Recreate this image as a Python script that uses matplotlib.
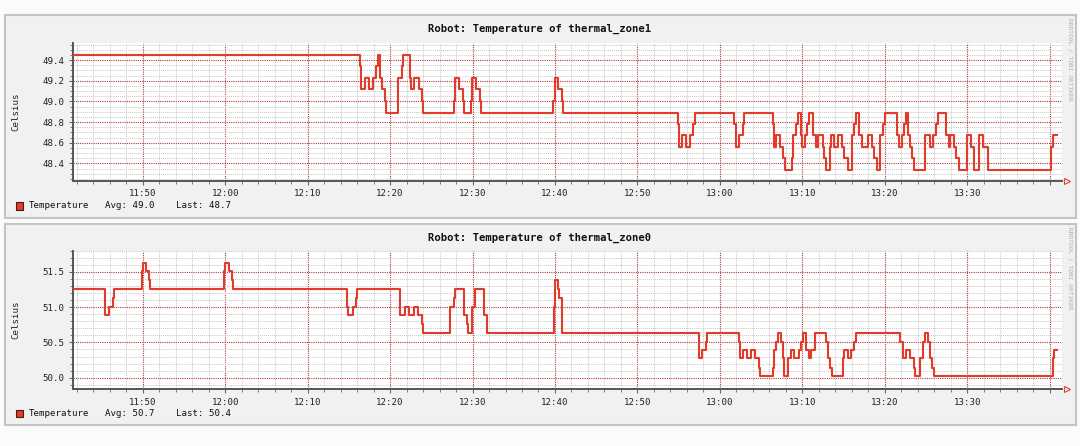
import pandas as pd
import matplotlib
matplotlib.use("Agg")
import matplotlib.pyplot as plt
import matplotlib.dates as mdates
from matplotlib.patches import Rectangle
from matplotlib.ticker import MultipleLocator

plt.rcParams["font.family"] = ["DejaVu Sans Mono"]

DAY = "2024-01-01 "
x_start, x_end = "11:41:30", "13:41:30"

# thermal_zone1 (top chart)
zone1_times = [
    "11:41:30", "12:16:22", "12:16:30", "12:16:54", "12:17:27", "12:17:54", "12:18:18", "12:18:30",
    "12:18:48", "12:19:00", "12:19:24", "12:19:30", "12:20:54", "12:21:00", "12:21:30", "12:21:36",
    "12:22:24", "12:22:30", "12:22:54", "12:23:30", "12:23:54", "12:24:00", "12:27:48", "12:27:54",
    "12:28:24", "12:28:51", "12:29:00", "12:29:48", "12:29:57", "12:30:24", "12:30:54", "12:31:00",
    "12:39:48", "12:40:00", "12:40:24", "12:40:54", "12:41:00", "12:54:53", "12:55:00", "12:55:25",
    "12:55:54", "12:56:25", "12:56:47", "12:57:02", "13:01:45", "13:01:58", "13:02:22", "13:02:46",
    "13:02:58", "13:06:24", "13:06:31", "13:06:48", "13:07:20", "13:07:42", "13:07:54", "13:08:42",
    "13:08:54", "13:09:14", "13:09:26", "13:09:50", "13:09:58", "13:10:17", "13:10:34", "13:10:51",
    "13:11:15", "13:11:40", "13:11:56", "13:12:28", "13:12:40", "13:12:52", "13:13:21", "13:13:31",
    "13:13:53", "13:14:17", "13:14:46", "13:15:05", "13:15:30", "13:15:59", "13:16:18", "13:16:30",
    "13:16:54", "13:17:14", "13:18:00", "13:18:26", "13:18:44", "13:19:00", "13:19:27", "13:19:44",
    "13:20:01", "13:21:28", "13:21:45", "13:22:05", "13:22:22", "13:22:34", "13:22:48", "13:23:03",
    "13:23:18", "13:23:35", "13:24:52", "13:25:29", "13:25:48", "13:26:12", "13:26:29", "13:27:24",
    "13:27:44", "13:27:56", "13:28:25", "13:28:42", "13:29:02", "13:29:55", "13:30:26", "13:30:51",
    "13:31:27", "13:31:52", "13:32:28", "13:40:12", "13:40:28", "13:40:57",
]
zone1_temps = [
    49.45, 49.34, 49.12, 49.23, 49.12, 49.23, 49.34, 49.45,
    49.23, 49.12, 49.00, 48.89, 49.00, 49.23, 49.34, 49.45,
    49.23, 49.12, 49.23, 49.12, 49.00, 48.89, 49.00, 49.23,
    49.12, 49.00, 48.89, 49.00, 49.23, 49.12, 49.00, 48.89,
    49.00, 49.23, 49.12, 49.00, 48.89, 48.78, 48.56, 48.67,
    48.56, 48.67, 48.78, 48.89, 48.78, 48.56, 48.67, 48.78,
    48.89, 48.78, 48.56, 48.67, 48.56, 48.45, 48.34, 48.45,
    48.67, 48.78, 48.89, 48.67, 48.56, 48.67, 48.78, 48.89,
    48.67, 48.56, 48.67, 48.56, 48.45, 48.34, 48.56, 48.67,
    48.56, 48.67, 48.56, 48.45, 48.34, 48.67, 48.78, 48.89,
    48.67, 48.56, 48.67, 48.56, 48.45, 48.34, 48.67, 48.78,
    48.89, 48.67, 48.56, 48.67, 48.78, 48.89, 48.67, 48.56,
    48.45, 48.34, 48.67, 48.56, 48.67, 48.78, 48.89, 48.67,
    48.56, 48.67, 48.56, 48.45, 48.34, 48.67, 48.56, 48.34,
    48.67, 48.56, 48.34, 48.56, 48.67, 48.67,
]

# thermal_zone0 (bottom chart)
zone0_times = [
    "11:41:30", "11:45:24", "11:45:53", "11:46:20", "11:46:29", "11:49:51", "11:49:58", "11:50:24",
    "11:50:47", "11:50:56", "11:59:53", "11:59:59", "12:00:25", "12:00:51", "12:00:57", "12:14:47",
    "12:14:54", "12:15:29", "12:15:53", "12:15:59", "12:21:13", "12:21:49", "12:22:18", "12:22:51",
    "12:23:22", "12:23:49", "12:23:56", "12:27:18", "12:27:44", "12:27:53", "12:28:57", "12:29:23",
    "12:29:29", "12:29:53", "12:30:18", "12:31:22", "12:31:48", "12:39:53", "12:40:00", "12:40:20",
    "12:40:28", "12:40:54", "12:57:26", "12:57:31", "12:57:53", "12:58:18", "12:58:25", "13:02:22",
    "13:02:29", "13:02:51", "13:03:15", "13:03:45", "13:04:16", "13:04:45", "13:04:52", "13:06:27",
    "13:06:36", "13:06:49", "13:07:00", "13:07:25", "13:07:37", "13:07:49", "13:08:13", "13:08:38",
    "13:09:02", "13:09:33", "13:09:50", "13:10:02", "13:10:27", "13:10:46", "13:11:03", "13:11:29",
    "13:12:55", "13:13:09", "13:13:22", "13:13:33", "13:14:58", "13:15:05", "13:15:32", "13:15:56",
    "13:16:18", "13:16:30", "13:21:50", "13:22:10", "13:22:33", "13:23:02", "13:23:35", "13:23:42",
    "13:24:14", "13:24:35", "13:24:51", "13:25:14", "13:25:27", "13:25:47", "13:26:00", "13:40:22",
    "13:40:33", "13:40:57",
]
zone0_temps = [
    51.26, 50.89, 51.00, 51.13, 51.26, 51.51, 51.63, 51.51,
    51.38, 51.26, 51.51, 51.63, 51.51, 51.38, 51.26, 51.00,
    50.89, 51.00, 51.13, 51.26, 50.89, 51.00, 50.89, 51.00,
    50.89, 50.76, 50.64, 51.00, 51.13, 51.26, 50.89, 50.76,
    50.64, 51.00, 51.26, 50.89, 50.64, 51.00, 51.38, 51.26,
    51.13, 50.64, 50.39, 50.28, 50.39, 50.51, 50.64, 50.51,
    50.28, 50.39, 50.28, 50.39, 50.28, 50.13, 50.02, 50.13,
    50.39, 50.51, 50.64, 50.51, 50.28, 50.02, 50.28, 50.39,
    50.28, 50.39, 50.51, 50.64, 50.39, 50.28, 50.39, 50.64,
    50.51, 50.28, 50.13, 50.02, 50.28, 50.39, 50.28, 50.39,
    50.51, 50.64, 50.51, 50.28, 50.39, 50.28, 50.13, 50.02,
    50.28, 50.51, 50.64, 50.51, 50.28, 50.13, 50.02, 50.28,
    50.39, 50.39,
]

titles = ["Robot: Temperature of thermal_zone1", "Robot: Temperature of thermal_zone0"]
avg_labels = ["Avg: 49.0", "Avg: 50.7"]
last_labels = ["Last: 48.7", "Last: 50.4"]

LINE = "#e23b2c"
W, H = 1080, 446
fig = plt.figure(figsize=(W / 100, H / 100), dpi=100, facecolor="#fbfbfb")


def fx(x):
    return x / W


def fy(y):
    return 1 - y / H


def to_dt(ts):
    return pd.to_datetime([DAY + t for t in ts])


# rrdtool leaves the last grid line (13:40) without a label
last_label = mdates.date2num(to_dt(["13:35:00"])[0])


def time_label(v, pos):
    if v > last_label:
        return ""
    return mdates.num2date(v).strftime("%H:%M")


def draw(times, temps, box, plot, ylim, ymaj, ymin, title, avg, last):
    # panel background
    top, bottom = box
    fig.patches.append(Rectangle((fx(5), fy(bottom)), fx(1076) - fx(5), fy(top) - fy(bottom),
                                 transform=fig.transFigure, facecolor="#f1f1f1",
                                 edgecolor="#c4c4c4", lw=1.5, zorder=-5))
    ptop, pbot = plot
    ax = fig.add_axes([fx(72.7), fy(pbot), fx(1062) - fx(72.7), fy(ptop) - fy(pbot)])
    ax.set_facecolor("white")
    ax.plot(to_dt(times), temps, drawstyle="steps-post", color=LINE, lw=1.5, zorder=3)

    ax.set_xlim(to_dt([x_start])[0], to_dt([x_end])[0])
    ax.set_ylim(*ylim)
    ax.xaxis.set_major_locator(mdates.MinuteLocator(byminute=range(0, 60, 10)))
    ax.xaxis.set_minor_locator(mdates.MinuteLocator(byminute=range(0, 60, 2)))
    ax.xaxis.set_major_formatter(plt.FuncFormatter(time_label))
    ax.yaxis.set_major_locator(MultipleLocator(ymaj))
    ax.yaxis.set_minor_locator(MultipleLocator(ymin))
    ax.yaxis.set_major_formatter(plt.FuncFormatter(lambda v, p: f"{v:.1f}"))

    ax.set_axisbelow(True)
    ax.grid(which="minor", color="#c8c8c8", linestyle=(0, (1, 1)), lw=0.7)
    ax.grid(which="major", color="#b23a3a", linestyle=(0, (1, 1)), lw=0.8)
    ax.tick_params(which="both", direction="out", color="#666666", labelcolor="#222222",
                   labelsize=6.6)
    ax.tick_params(which="major", length=3, pad=3)
    ax.tick_params(which="minor", length=2)

    for s in ("top", "right"):
        ax.spines[s].set_visible(False)
    for s in ("left", "bottom"):
        ax.spines[s].set_color("#555555")
        ax.spines[s].set_linewidth(1.4)
    ax.plot([1.005], [0], marker=">", ms=4, mfc="none", mec="#e04030", mew=0.8,
            transform=ax.transAxes, clip_on=False)

    fig.text(fx(540), fy(top + 14), title, ha="center", va="center", fontsize=7.6,
             fontweight="bold", color="#111111")
    fig.text(fx(1070), fy(top + 3), "RRDTOOL / TOBI OETIKER", rotation=270, ha="center",
             va="top", fontsize=4.4, color="#aaaaaa")
    fig.text(fx(16), fy((ptop + pbot) / 2), "Celsius", rotation=90, ha="center", va="center",
             fontsize=6.6, color="#222222")

    ly = bottom - 12
    fig.patches.append(Rectangle((fx(16), fy(ly + 3.5)), 7 / W, 7 / H, transform=fig.transFigure,
                                 facecolor=LINE, edgecolor="#4a1a12", lw=0.8, zorder=2))
    fig.text(fx(29), fy(ly), "Temperature", ha="left", va="center", fontsize=6.6, color="#111111")
    fig.text(fx(105), fy(ly), avg, ha="left", va="center", fontsize=6.6, color="#111111")
    fig.text(fx(176.5), fy(ly), last, ha="left", va="center", fontsize=6.6, color="#111111")
    return ax


draw(zone1_times, zone1_temps, (15, 218), (43.3, 181), (48.229, 49.562), 0.2, 0.05,
     titles[0], avg_labels[0], last_labels[0])
draw(zone0_times, zone0_temps, (224, 425), (250.7, 389.3), (49.835, 51.80), 0.5, 0.1,
     titles[1], avg_labels[1], last_labels[1])

fig.savefig("out.png", dpi=100, facecolor=fig.get_facecolor())
